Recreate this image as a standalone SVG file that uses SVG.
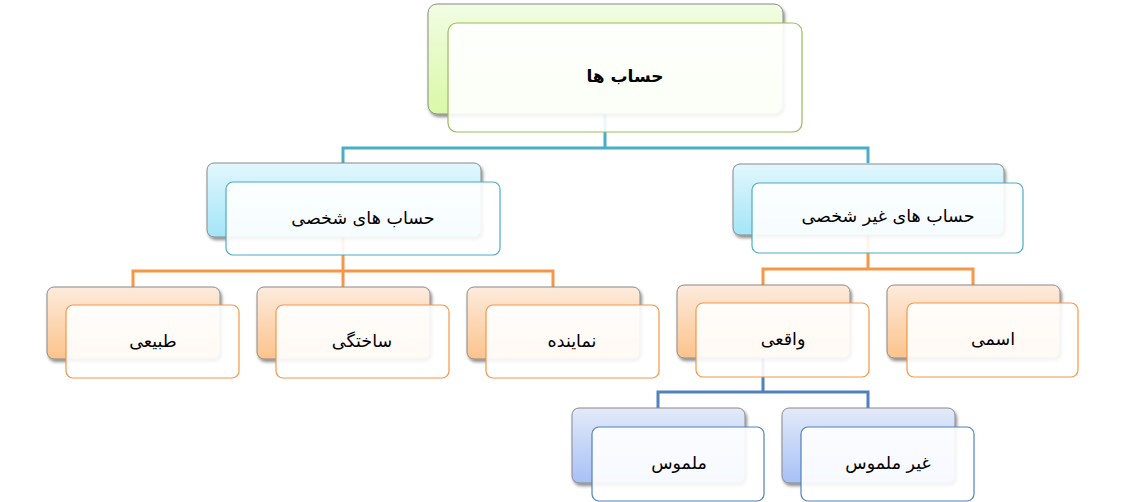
<svg xmlns="http://www.w3.org/2000/svg" width="1125" height="502" viewBox="0 0 1125 502">
<defs>
<linearGradient id="gG" x1="0" y1="0" x2="0" y2="1"><stop offset="0" stop-color="#F2FCE4"/><stop offset="1" stop-color="#D9F9A6"/></linearGradient>
<linearGradient id="gC" x1="0" y1="0" x2="0" y2="1"><stop offset="0" stop-color="#E2F7FD"/><stop offset="1" stop-color="#A3E5F8"/></linearGradient>
<linearGradient id="gO" x1="0" y1="0" x2="0" y2="1"><stop offset="0" stop-color="#FDEBDD"/><stop offset="1" stop-color="#FCC38C"/></linearGradient>
<linearGradient id="gB" x1="0" y1="0" x2="0" y2="1"><stop offset="0" stop-color="#E3EAF9"/><stop offset="1" stop-color="#A7C0F6"/></linearGradient>
<filter id="sh" x="-10%" y="-10%" width="130%" height="140%"><feDropShadow dx="1.5" dy="2.5" stdDeviation="1.5" flood-color="#000" flood-opacity="0.45"/></filter>
</defs>
<style>
.back{stroke:#8A8A8A;stroke-width:1;filter:url(#sh)}
.front{fill:#FFFFFF;fill-opacity:0.9;stroke-width:1.2}
.t{font-family:"DejaVu Sans","Noto Sans",sans-serif;fill:#000;text-anchor:middle;dominant-baseline:central;font-size:17.5px}
.conn{fill:none;stroke-width:3}
</style>
<g id="connectors">
<path class="conn" stroke="#4BACC6" d="M605,114 V148 M343,163 V148 H868 V163"/>
<path class="conn" stroke="#F79646" d="M343,237 V271 M133,287 V271 H553 V287 M343,271 V287"/>
<path class="conn" stroke="#F79646" d="M868,235 V269 M763,285 V269 H973 V285"/>
<path class="conn" stroke="#4F81BD" d="M763,358 V392 M658,408 V392 H868 V408"/>
</g>
<g id="n-root">
<rect class="back" x="428" y="4" width="355" height="110" rx="9" fill="url(#gG)"/>
<rect class="front" x="448" y="23" width="354" height="109" rx="9" stroke="#9BBB59"/>
<text class="t" x="625" y="76" style="font-size:17px" font-weight="bold" direction="rtl">حساب ها</text>
</g>
<g id="n-personal">
<rect class="back" x="207" y="163" width="274" height="74" rx="7" fill="url(#gC)"/>
<rect class="front" x="226" y="182" width="274" height="73" rx="7" stroke="#4BACC6"/>
<text class="t" x="363" y="218" direction="rtl">حساب های شخصی</text>
</g>
<g id="n-nonpersonal">
<rect class="back" x="733" y="164" width="271" height="71" rx="7" fill="url(#gC)"/>
<rect class="front" x="752" y="183" width="271" height="70" rx="7" stroke="#4BACC6"/>
<text class="t" x="888" y="216" direction="rtl">حساب های غیر شخصی</text>
</g>
<g id="n-natural">
<rect class="back" x="47" y="287" width="173" height="72" rx="7" fill="url(#gO)"/>
<rect class="front" x="66" y="305" width="173" height="73" rx="7" stroke="#F79646"/>
<text class="t" x="153" y="341" direction="rtl">طبیعی</text>
</g>
<g id="n-fictional">
<rect class="back" x="257" y="287" width="173" height="72" rx="7" fill="url(#gO)"/>
<rect class="front" x="276" y="305" width="173" height="73" rx="7" stroke="#F79646"/>
<text class="t" x="362" y="341" direction="rtl">ساختگی</text>
</g>
<g id="n-representative">
<rect class="back" x="467" y="287" width="173" height="72" rx="7" fill="url(#gO)"/>
<rect class="front" x="486" y="305" width="173" height="73" rx="7" stroke="#F79646"/>
<text class="t" x="572" y="341" direction="rtl">نماینده</text>
</g>
<g id="n-real">
<rect class="back" x="677" y="285" width="173" height="73" rx="7" fill="url(#gO)"/>
<rect class="front" x="696" y="303" width="173" height="74" rx="7" stroke="#F79646"/>
<text class="t" x="783" y="339" direction="rtl">واقعی</text>
</g>
<g id="n-nominal">
<rect class="back" x="887" y="285" width="173" height="73" rx="7" fill="url(#gO)"/>
<rect class="front" x="907" y="303" width="171" height="74" rx="7" stroke="#F79646"/>
<text class="t" x="993" y="339" direction="rtl">اسمی</text>
</g>
<g id="n-tangible">
<rect class="back" x="572" y="408" width="173" height="75" rx="7" fill="url(#gB)"/>
<rect class="front" x="592" y="427" width="172" height="74" rx="7" stroke="#4F81BD"/>
<text class="t" x="679" y="463" direction="rtl">ملموس</text>
</g>
<g id="n-intangible">
<rect class="back" x="782" y="408" width="173" height="75" rx="7" fill="url(#gB)"/>
<rect class="front" x="801" y="427" width="173" height="74" rx="7" stroke="#4F81BD"/>
<text class="t" x="888" y="463" direction="rtl">غیر ملموس</text>
</g>
</svg>
